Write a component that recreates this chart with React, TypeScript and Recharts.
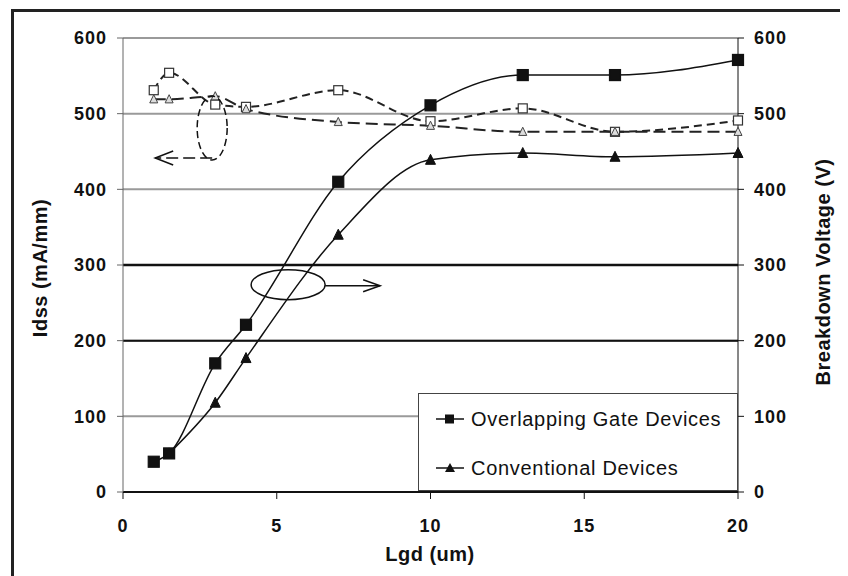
import React from 'react';
import { ComposedChart, Line, XAxis, YAxis, CartesianGrid, ReferenceLine, ReferenceDot } from 'recharts';

const lgd = [1, 1.5, 3, 4, 7, 10, 13, 16, 20];
const overlapBreakdown = [40, 51, 170, 221, 410, 511, 551, 551, 571];
const convBreakdown = [null, 51, 118, 177, 340, 439, 448, 443, 448];
const overlapIdss = [531, 554, 512, 509, 531, 490, 507, 476, 491];
const convIdss = [519, 519, 523, 506, 489, 484, 476, 476, 476];

const xTicks = [0, 5, 10, 15, 20];
const yTicks = [0, 100, 200, 300, 400, 500, 600];
const darkGrid = [200, 300];

const legendItems = ['Overlapping Gate Devices', 'Conventional Devices'];

const data = lgd.map((x, i) => ({
    x,
    overlapBV: overlapBreakdown[i],
    convBV: convBreakdown[i],
    overlapId: overlapIdss[i],
    convId: convIdss[i],
}));

const FONT = '"Liberation Sans", Arial, sans-serif';
const tickStyle = { fontFamily: FONT, fontSize: 18, fontWeight: 700, fill: '#111', letterSpacing: 1 };
const titleStyle = { fontFamily: FONT, fontSize: 20, fontWeight: 700, fill: '#111', letterSpacing: 0.5 };

const squareDot = (fill: string, stroke: string, size: number) => (props: any) => {
    const { cx, cy, index } = props;
    if (cx == null || cy == null) return <g key={`e${index}`} />;
    return <rect key={`s${index}`} x={cx - size / 2} y={cy - size / 2} width={size} height={size} fill={fill} stroke={stroke} strokeWidth={1.2} />;
};

const triDot = (fill: string, stroke: string, size: number) => (props: any) => {
    const { cx, cy, index } = props;
    if (cx == null || cy == null) return <g key={`e${index}`} />;
    const h = size * 0.9;
    return (
        <polygon
            key={`t${index}`}
            points={`${cx},${cy - h / 2 - 1} ${cx - size / 2},${cy + h / 2} ${cx + size / 2},${cy + h / 2}`}
            fill={fill}
            stroke={stroke}
            strokeWidth={1}
        />
    );
};

// circled group marker with arrow pointing to the right axis
const solidMark = (props: any) => {
    const { cx, cy } = props;
    return (
        <g>
            <ellipse cx={cx} cy={cy} rx={37} ry={15} fill="none" stroke="#111" strokeWidth={1.5} />
            <line x1={cx + 37} y1={cy + 1} x2={cx + 92} y2={cy + 1} stroke="#111" strokeWidth={1.5} />
            <polyline points={`${cx + 75},${cy - 5} ${cx + 92},${cy + 1} ${cx + 75},${cy + 7}`} fill="none" stroke="#111" strokeWidth={1.5} />
        </g>
    );
};

// dashed circled group marker with arrow pointing to the left axis
const dashedMark = (props: any) => {
    const { cx, cy } = props;
    return (
        <g>
            <ellipse cx={cx} cy={cy} rx={15} ry={32} fill="none" stroke="#111" strokeWidth={1.5} strokeDasharray="7 4" />
            <line x1={cx} y1={cy + 30} x2={cx - 57} y2={cy + 30} stroke="#111" strokeWidth={1.5} strokeDasharray="12 5" />
            <polyline points={`${cx - 39},${cy + 23} ${cx - 57},${cy + 30} ${cx - 39},${cy + 37}`} fill="none" stroke="#111" strokeWidth={1.5} />
        </g>
    );
};

function LegendBox() {
    return (
        <div
            style={{
                position: 'absolute',
                left: 410,
                top: 385,
                width: 320,
                height: 98,
                boxSizing: 'border-box',
                border: '1.5px solid #444',
                background: '#fff',
                fontFamily: FONT,
                fontSize: 20,
                letterSpacing: 0.7,
                color: '#111',
            }}
        >
            {legendItems.map((name, i) => (
                <div key={name} style={{ position: 'absolute', left: 16, top: i === 0 ? 13 : 62, height: 24, display: 'flex', alignItems: 'center' }}>
                    <svg width={30} height={24} style={{ marginRight: 6 }}>
                        <line x1={1} y1={12} x2={29} y2={12} stroke="#111" strokeWidth={1.5} />
                        {i === 0 ? (
                            <rect x={10} y={7.5} width={9} height={9} fill="#111" />
                        ) : (
                            <polygon points="15,7 10,16 20,16" fill="#111" />
                        )}
                    </svg>
                    <span>{name}</span>
                </div>
            ))}
        </div>
    );
}

export default function App() {
    return (
        <div style={{ position: 'relative', width: 840, height: 568, overflow: 'hidden', background: '#fff' }}>
            <div
                style={{
                    position: 'absolute',
                    left: 3,
                    top: 1,
                    width: 1000,
                    height: 1000,
                    borderLeft: '3px solid #222',
                    borderTop: '3px solid #222',
                }}
            />
            <div style={{ position: 'absolute', left: 0, top: 0 }}>
                <ComposedChart width={840} height={560} data={data} margin={{ top: 30, right: 0, bottom: 0, left: 0 }}>
                    <CartesianGrid vertical={false} stroke="#9a9a9a" strokeWidth={2} yAxisId="bv" />
                    {darkGrid.map((v) => (
                        <ReferenceLine key={v} yAxisId="bv" y={v} stroke="#111" strokeWidth={v === 300 ? 2.5 : 2} />
                    ))}
                    <XAxis
                        dataKey="x"
                        type="number"
                        domain={[0, 20]}
                        ticks={xTicks}
                        height={76}
                        tickSize={7}
                        tickMargin={20}
                        tick={tickStyle}
                        stroke="#111"
                        strokeWidth={2}
                        tickLine={{ stroke: '#111', strokeWidth: 1 }}
                        label={{
                            content: () => (
                                <text x={422} y={553} textAnchor="middle" style={titleStyle}>
                                    Lgd (um)
                                </text>
                            ),
                        }}
                    />
                    <YAxis
                        yAxisId="idss"
                        orientation="left"
                        domain={[0, 600]}
                        ticks={yTicks}
                        width={115}
                        tickSize={6}
                        tickMargin={10}
                        tick={tickStyle}
                        stroke="#666"
                        tickLine={{ stroke: '#666' }}
                        label={{
                            content: () => (
                                <text x={39} y={260} textAnchor="middle" transform="rotate(-90 39 260)" style={titleStyle}>
                                    Idss (mA/mm)
                                </text>
                            ),
                        }}
                    />
                    <YAxis
                        yAxisId="bv"
                        orientation="right"
                        domain={[0, 600]}
                        ticks={yTicks}
                        width={110}
                        tickSize={6}
                        tickMargin={10}
                        tick={tickStyle}
                        stroke="#111"
                        tickLine={{ stroke: '#111' }}
                        label={{
                            content: () => (
                                <text x={822} y={264} textAnchor="middle" transform="rotate(-90 822 264)" style={titleStyle}>
                                    Breakdown Voltage (V)
                                </text>
                            ),
                        }}
                    />
                    <Line yAxisId="idss" type="monotone" dataKey="overlapId" stroke="#222" strokeWidth={2} strokeDasharray="8 5" dot={squareDot('#fff', '#333', 9)} isAnimationActive={false} />
                    <Line yAxisId="idss" type="monotone" dataKey="convId" stroke="#222" strokeWidth={2} strokeDasharray="12 6" dot={triDot('#ddd', '#444', 8)} isAnimationActive={false} />
                    <Line yAxisId="bv" type="monotone" dataKey="overlapBV" stroke="#111" strokeWidth={1.5} dot={squareDot('#111', '#111', 11)} isAnimationActive={false} />
                    <Line yAxisId="bv" type="monotone" dataKey="convBV" stroke="#111" strokeWidth={1.5} dot={triDot('#111', '#111', 10)} isAnimationActive={false} />
                    <ReferenceDot yAxisId="bv" x={5.37} y={274} shape={solidMark} />
                    <ReferenceDot yAxisId="idss" x={2.9} y={481} shape={dashedMark} />
                </ComposedChart>
            </div>
            <LegendBox />
        </div>
    );
}
